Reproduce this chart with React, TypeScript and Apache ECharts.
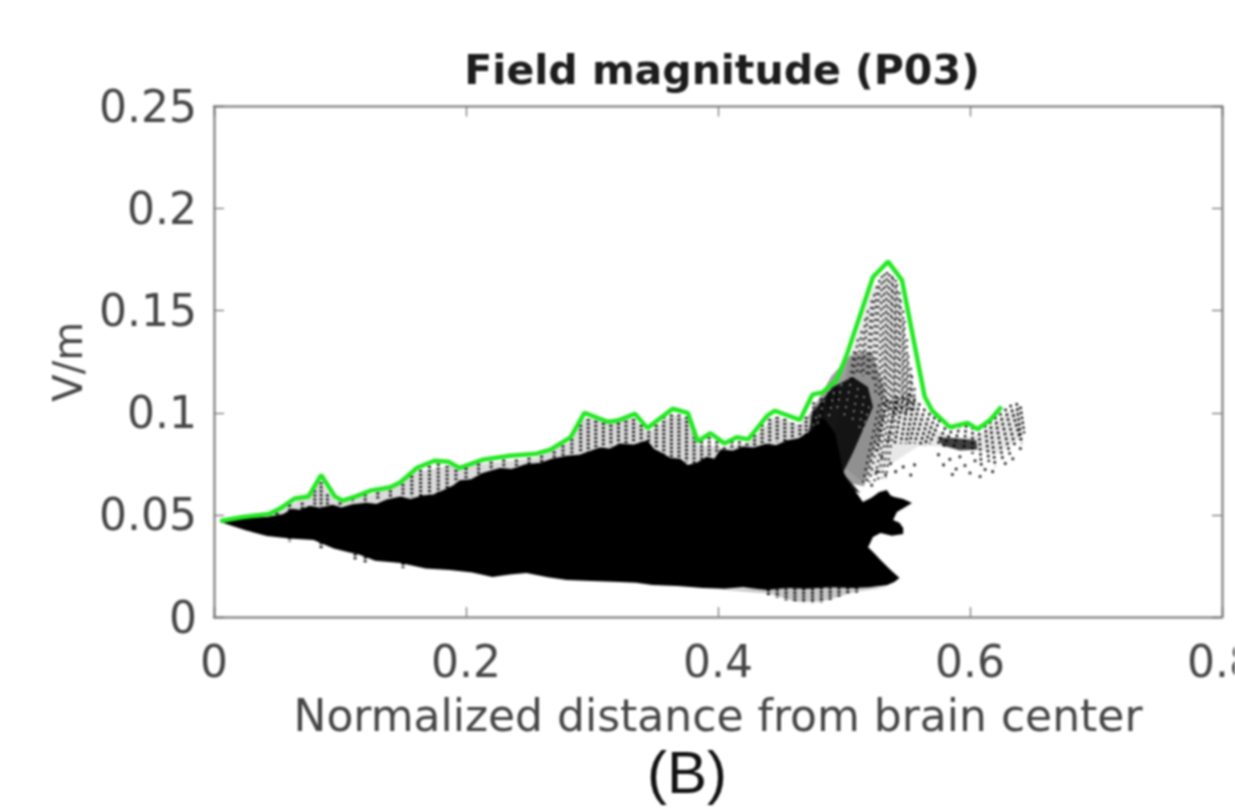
import React, { useEffect, useRef } from "react";
import * as echarts from "echarts";

const titleText = "Field magnitude (P03)";
const xName = "Normalized distance from brain center";
const yName = "V/m";
const panelLabel = "(B)";
const xTicks = [0, 0.2, 0.4, 0.6, 0.8];
const yTicks = [0, 0.05, 0.1, 0.15, 0.2, 0.25];

const maxEnvelope = [
  [.005,.047],[.023,.049],[.044,.0505],[.052,.053],[.064,.058],[.075,.059],[.085,.0695],[.096,.059],[.102,.057],[.112,.059],
  [.125,.062],[.140,.0635],[.148,.066],[.161,.073],[.175,.0765],[.186,.076],[.195,.073],[.213,.077],[.235,.079],[.256,.080],
  [.267,.082],[.283,.088],[.294,.100],[.313,.0955],[.322,.0965],[.334,.0995],[.344,.0925],[.364,.102],[.376,.100],[.384,.086],
  [.394,.090],[.405,.085],[.415,.088],[.424,.087],[.439,.0985],[.445,.101],[.465,.0965],[.475,.109],[.483,.110],[.494,.116],
  [.502,.128],[.523,.1665],[.535,.174],[.546,.165],[.564,.108],[.570,.101],[.584,.093],[.598,.095],[.606,.092],[.616,.0965],[.625,.103],
];

const solidMass = [
  [.005,.047],[.025,.0485],[.042,.049],[.055,.0505],[.062,.053],[.068,.0525],[.076,.0545],[.084,.0535],[.094,.055],[.101,.0538],[.110,.0552],
  [.121,.056],[.129,.0555],[.137,.0575],[.148,.059],[.156,.0578],[.165,.0595],[.174,.060],[.183,.0625],[.190,.0645],[.195,.067],[.204,.0675],[.213,.0705],
  [.227,.073],[.236,.0725],[.247,.0748],[.259,.0755],[.268,.0775],[.280,.079],[.290,.0795],[.306,.083],[.314,.0825],[.322,.085],[.333,.0845],
  [.344,.0865],[.349,.0825],[.355,.0805],[.362,.078],[.370,.0775],[.376,.0745],[.383,.0755],[.391,.0785],[.397,.0775],[.402,.082],[.412,.0815],[.420,.0835],[.428,.083],
  [.438,.0848],[.446,.0842],[.455,.0865],[.464,.0875],[.475,.092],[.484,.0975],[.493,.090],[.497,.0785],[.499,.072],[.503,.0665],[.510,.0607],[.515,.0563],
  [.522,.0585],[.528,.0612],[.534,.0622],[.537,.0595],[.540,.0588],[.547,.0578],[.554,.0558],[.547,.0532],[.542,.0514],[.539,.0475],[.544,.0462],[.547,.0436],
  [.547,.0406],[.538,.0398],[.529,.0411],[.523,.0392],[.520,.0352],[.519,.0343],[.524,.0312],[.529,.0279],[.536,.0236],[.544,.0191],[.540,.0172],[.534,.0155],[.520,.0146],[.507,.0142],
  [.490,.0146],[.470,.0138],[.455,.0142],[.439,.0132],[.420,.0146],[.405,.0138],[.388,.0142],[.368,.0152],
  [.348,.0157],[.335,.0168],[.322,.0171],[.300,.0176],[.280,.0181],[.265,.0195],[.248,.0215],[.235,.0208],[.221,.0196],[.205,.0218],[.187,.023],[.168,.0238],[.148,.0264],
  [.128,.0276],[.115,.0306],[.106,.0318],[.095,.0335],[.079,.0377],[.060,.0385],[.042,.0397],[.025,.0425],[.005,.0465],
];

const denseCore = [
  [.475,.100],[.491,.1126],[.507,.1175],[.519,.1126],[.523,.1028],[.515,.0916],[.507,.0803],[.499,.0705],[.513,.0607],[.490,.065],[.470,.085],
];

const coreHalo = [
  [.472,.098],[.490,.118],[.505,.128],[.522,.130],[.532,.112],[.530,.095],[.522,.078],[.516,.064],[.500,.066],[.480,.085],
];

const stippleBand = [
  [.030,.049],[.064,.056],[.085,.066],[.096,.057],[.125,.060],[.161,.071],[.186,.074],[.213,.075],[.256,.078],[.283,.086],
  [.294,.097],[.334,.097],[.344,.090],[.364,.099],[.376,.097],[.384,.084],[.405,.083],[.424,.085],[.445,.098],[.465,.094],
  [.478,.104],[.494,.113],[.480,.090],[.428,.082],[.383,.075],[.362,.077],[.344,.085],[.280,.078],[.195,.066],[.174,.059],[.094,.054],[.030,.048],
];

const peakCloud = [
  [.503,.124],[.522,.160],[.535,.169],[.544,.160],[.551,.128],[.560,.100],[.575,.091],[.590,.087],[.610,.090],[.630,.100],
  [.639,.103],[.640,.088],[.622,.080],[.605,.082],[.590,.083],[.560,.084],[.540,.076],[.515,.066],[.499,.074],[.493,.090],
];

const lowerFringe = [
  [.400,.0135],[.440,.0115],[.462,.0075],[.482,.0075],[.510,.0125],[.534,.0145],[.500,.0150],[.430,.0140],
];

const tailSmear = [
  [.574,.088],[.590,.0875],[.605,.0865],[.606,.082],[.592,.0815],[.578,.084],
];

// Dotted runs of field samples: [x at top, y at top, x at bottom, y at bottom]
const peakRuns = [
  [.508,.130,.505,.116],[.511,.136,.507,.116],[.514,.140,.510,.118],[.517,.146,.513,.118],[.519,.150,.515,.118],[.522,.155,.518,.118],
  [.524,.158,.520,.118],[.526,.162,.523,.116],[.528,.165,.525,.110],[.530,.167,.528,.108],[.532,.168,.530,.104],[.534,.169,.532,.104],
  [.536,.168,.533,.102],[.538,.167,.535,.102],[.539,.166,.537,.100],[.541,.165,.539,.100],[.542,.163,.540,.100],[.544,.159,.542,.100],
  [.545,.155,.544,.100],[.547,.150,.546,.100],[.548,.145,.547,.100],[.550,.136,.549,.100],[.551,.128,.550,.100],[.553,.122,.552,.100],[.554,.118,.553,.100],[.556,.112,.555,.100],
  [.528,.104,.515,.066],[.531,.105,.518,.066],[.533,.104,.520,.066],[.536,.105,.524,.066],[.538,.106,.527,.067],[.541,.106,.530,.068],[.543,.106,.533,.068],
];

const tailRuns = [
  [.534,.1064,.526,.0803],[.542,.108,.534,.0835],[.547,.108,.540,.084],[.552,.1096,.545,.085],[.556,.107,.549,.085],[.560,.1047,.552,.085],[.564,.102,.556,.085],[.568,.0998,.560,.0835],
  [.572,.098,.564,.084],[.576,.0966,.568,.085],[.582,.095,.574,.084],[.587,.0933,.579,.0835],[.592,.094,.587,.083],[.597,.094,.595,.082],[.602,.093,.602,.080],[.607,.0925,.609,.0738],
  [.612,.094,.615,.076],[.616,.0958,.620,.0738],[.620,.098,.626,.077],[.624,.0998,.632,.0787],[.628,.102,.636,.083],[.632,.1039,.640,.0868],[.637,.1047,.641,.085],[.640,.103,.643,.090],
];

const bandRuns = [
  [.05,.051,.05,.049],[.06,.055,.06,.052],[.07,.056,.07,.053],[.08,.062,.08,.054],[.085,.066,.085,.054],[.09,.060,.09,.055],[.10,.056,.10,.055],[.11,.058,.11,.056],
  [.12,.060,.12,.056],[.13,.061,.13,.057],[.14,.062,.14,.058],[.15,.065,.15,.059],[.157,.069,.157,.059],[.164,.072,.164,.059],[.171,.074,.171,.060],[.178,.075,.178,.060],
  [.185,.074,.185,.062],[.192,.072,.192,.066],[.20,.073,.20,.068],[.21,.075,.21,.070],[.22,.076,.22,.072],[.23,.077,.23,.073],[.24,.077,.24,.074],[.25,.078,.25,.075],
  [.26,.079,.26,.076],[.27,.081,.27,.077],[.277,.084,.277,.078],[.284,.087,.284,.079],[.291,.096,.291,.081],[.297,.097,.297,.081],[.303,.096,.303,.082],[.309,.095,.309,.083],
  [.315,.094,.315,.084],[.321,.095,.321,.085],[.327,.096,.327,.085],[.333,.097,.333,.086],[.339,.094,.339,.086],[.345,.091,.345,.086],[.351,.094,.351,.083],[.357,.098,.357,.080],
  [.363,.099,.363,.078],[.369,.099,.369,.077],[.375,.098,.375,.076],[.381,.090,.381,.075],[.387,.086,.387,.077],[.393,.088,.393,.078],[.399,.086,.399,.080],[.405,.083,.405,.082],
  [.411,.086,.411,.083],[.417,.086,.417,.083],[.423,.085,.423,.083],[.429,.089,.429,.083],[.435,.094,.435,.084],[.441,.097,.441,.085],[.447,.098,.447,.086],[.453,.097,.453,.086],
  [.459,.095,.459,.087],[.465,.094,.465,.088],[.470,.098,.470,.088],[.476,.105,.476,.090],[.482,.107,.482,.094],[.488,.110,.488,.100],[.494,.112,.494,.105],
];

const fringeRuns = [
  [.440,.0135,.440,.0105],[.447,.0135,.447,.0095],[.454,.0140,.454,.0082],[.461,.0140,.461,.0075],[.468,.0140,.468,.0070],[.475,.0140,.475,.0068],
  [.482,.0145,.482,.0072],[.489,.0145,.489,.0085],[.496,.0145,.496,.0095],[.503,.0145,.503,.0110],[.510,.0145,.510,.0120],
  [.060,.0390,.060,.0370],[.085,.0365,.085,.0335],[.112,.0310,.112,.0280],[.120,.0295,.120,.0265],[.150,.0265,.150,.0240],
];

// Paler specks where the dense core is not fully filled
const coreHoles = [
  [.478,.098,.472,.088],[.484,.106,.478,.092],[.492,.110,.488,.098],[.498,.114,.494,.100],[.505,.114,.500,.098],[.511,.112,.506,.094],[.516,.108,.512,.092],[.520,.103,.515,.092],
];

const sparseDots = [
  [.530,.0786],[.537,.0752],[.541,.0712],[.547,.0735],[.553,.0695],[.556,.0745],[.575,.0795],[.579,.0745],[.584,.0772],[.589,.0725],[.592,.0785],[.596,.0742],
  [.600,.0705],[.604,.0765],[.608,.0688],[.612,.0722],[.586,.0698],[.618,.0712],[.628,.0752],[.634,.0775],[.640,.0825],[.522,.0645],[.526,.0712],[.533,.0695],
];

const grey = "#8e8e8e";
const textColor = "#454545";
const font = "DejaVu Sans";

function polygonSeries(outline: number[][], fill: string) {
  return {
    type: "custom",
    data: outline,
    encode: { x: 0, y: 1 },
    silent: true,
    renderItem: (params: any, api: any) => {
      if (params.dataIndex !== 0) return null;
      return {
        type: "polygon",
        shape: { points: outline.map((p) => api.coord(p)) },
        style: { fill, stroke: "none" },
      };
    },
  };
}

function runSeries(runs: number[][], width: number, dash: number[], stroke = "#000") {
  return {
    type: "custom",
    data: runs,
    encode: { x: [0, 2], y: [1, 3] },
    silent: true,
    renderItem: (_params: any, api: any) => {
      const a = api.coord([api.value(0), api.value(1)]);
      const b = api.coord([api.value(2), api.value(3)]);
      return {
        type: "line",
        shape: { x1: a[0], y1: a[1], x2: b[0], y2: b[1] },
        style: { stroke, lineWidth: width, lineDash: dash, fill: null },
      };
    },
  };
}

function dotSeries(points: number[][], size: number) {
  return {
    type: "scatter",
    data: points,
    symbol: "circle",
    symbolSize: size,
    silent: true,
    itemStyle: { color: "#000", opacity: 0.9 },
  };
}

export default function App() {
  const ref = useRef<HTMLDivElement>(null);
  useEffect(() => {
    document.body.style.margin = "0";
    document.body.style.background = "#fff";
    document.body.style.overflow = "hidden";
    const chart = echarts.init(ref.current!, undefined, { renderer: "svg" });
    const sharedLine = { show: true, onZero: false, lineStyle: { color: grey, width: 2.5 } };
    const sharedTick = { show: true, inside: true, length: 10, lineStyle: { color: "#707070", width: 1.2 } };
    chart.setOption({
      animation: false,
      backgroundColor: "#fff",
      title: {
        text: titleText,
        left: 717,
        top: 44,
        textAlign: "center",
        textStyle: { fontFamily: font, fontWeight: "bold", fontSize: 41, color: "#1c1c1c" },
      },
      grid: { left: 214, right: 13, top: 106.5, bottom: 192, outerBoundsMode: "none" },
      xAxis: [
        {
          type: "value", min: 0, max: 0.8, interval: 0.2, position: "bottom",
          name: xName, nameLocation: "middle", nameGap: 76,
          nameTextStyle: { fontFamily: font, fontSize: 44, color: textColor },
          axisLine: sharedLine, axisTick: sharedTick, splitLine: { show: false },
          axisLabel: {
            margin: 22, fontFamily: font, fontSize: 44, color: textColor,
            formatter: (v: number) => (xTicks.includes(v) ? String(v) : ""),
          },
        },
        {
          type: "value", min: 0, max: 0.8, interval: 0.2, position: "top",
          axisLine: sharedLine, axisTick: sharedTick, splitLine: { show: false }, axisLabel: { show: false },
        },
      ],
      yAxis: [
        {
          type: "value", min: 0, max: 0.25, interval: 0.05, position: "left",
          name: yName, nameLocation: "middle", nameGap: 126,
          nameTextStyle: { fontFamily: font, fontSize: 40, color: textColor },
          axisLine: sharedLine, axisTick: sharedTick, splitLine: { show: false },
          axisLabel: {
            margin: 17, fontFamily: font, fontSize: 44, color: textColor,
            formatter: (v: number) => (yTicks.some((t) => Math.abs(t - v) < 1e-9) ? String(+v.toFixed(2)) : ""),
          },
        },
        {
          type: "value", min: 0, max: 0.25, interval: 0.05, position: "right",
          axisLine: sharedLine, axisTick: sharedTick, splitLine: { show: false }, axisLabel: { show: false },
        },
      ],
      graphic: [
        {
          type: "text", left: 647, top: 742,
          style: { text: panelLabel, fontFamily: "Liberation Sans", fontSize: 60, fill: "#111" },
        },
      ],
      series: [
        polygonSeries(stippleBand, "rgba(0,0,0,0.14)"),
        polygonSeries(peakCloud, "rgba(0,0,0,0.09)"),
        polygonSeries(lowerFringe, "rgba(0,0,0,0.22)"),
        runSeries(peakRuns, 2, [2, 4.5]),
        runSeries(tailRuns, 2.4, [2.5, 2.5]),
        runSeries(bandRuns, 3, [2, 2]),
        runSeries(fringeRuns, 3, [2, 1.5]),
        polygonSeries(tailSmear, "rgba(0,0,0,0.72)"),
        polygonSeries(coreHalo, "rgba(0,0,0,0.38)"),
        polygonSeries(denseCore, "rgba(0,0,0,0.86)"),
        runSeries(coreHoles, 1.5, [1.5, 6], "rgba(255,255,255,0.8)"),
        polygonSeries(solidMass, "#000"),
        dotSeries(sparseDots, 3),
        {
          type: "line", data: maxEnvelope, symbol: "none", smooth: false, silent: true,
          lineStyle: { color: "#22e822", width: 4.5 },
        },
      ],
    });
    return () => chart.dispose();
  }, []);
  return (
    <div
      ref={ref}
      style={{ position: "fixed", left: 0, top: 0, width: 1235, height: 809, filter: "blur(0.8px)" }}
    />
  );
}
